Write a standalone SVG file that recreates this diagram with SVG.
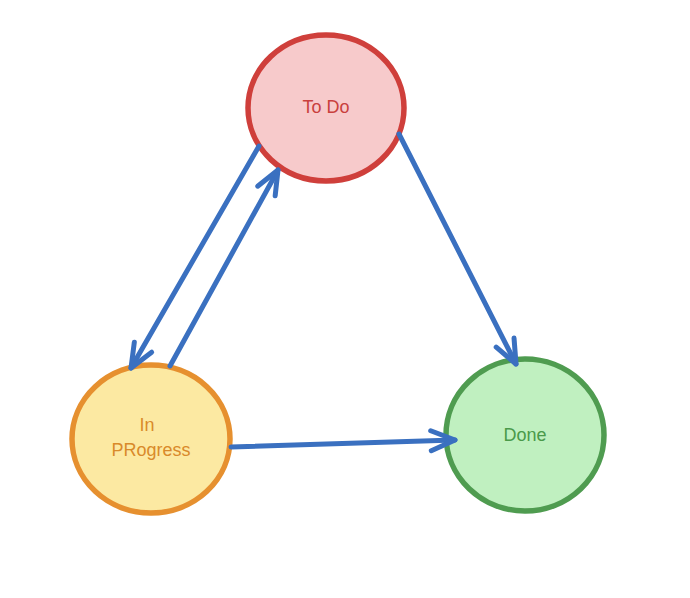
<svg xmlns="http://www.w3.org/2000/svg" width="690" height="598" viewBox="0 0 690 598">
<style>
.lbl{font-family:"Liberation Sans","DejaVu Sans",sans-serif;font-size:18px;text-anchor:middle;dominant-baseline:middle}
.edge{fill:none;stroke:#3a70c0;stroke-width:5;stroke-linecap:round;stroke-linejoin:round}
</style>
<defs>
<marker id="ah" markerUnits="userSpaceOnUse" markerWidth="40" markerHeight="40" viewBox="-30 -20 40 40" refX="0" refY="0" orient="auto">
<path d="M-24,-10 L0,0 L-24,10" fill="none" stroke="#3a70c0" stroke-width="5" stroke-linecap="round" stroke-linejoin="round"/>
</marker>
</defs>
<rect width="690" height="598" fill="#ffffff"/>
<g id="todo">
<ellipse cx="326" cy="108" rx="78" ry="73" fill="#f7cacb" stroke="#cf3f3b" stroke-width="5.5"/>
<text class="lbl" x="326" y="108" fill="#c9403d">To Do</text>
</g>
<g id="inprogress">
<ellipse cx="151" cy="439" rx="79" ry="74" fill="#fce9a2" stroke="#e6902f" stroke-width="5.5"/>
<text class="lbl" x="147" y="426" fill="#d98a2a">In</text>
<text class="lbl" x="151" y="451" fill="#d98a2a">PRogress</text>
</g>
<g id="done">
<ellipse cx="525" cy="435" rx="79" ry="76" fill="#c0f0c0" stroke="#4f9c50" stroke-width="5.5"/>
<text class="lbl" x="525" y="436" fill="#4a9a4a">Done</text>
</g>
<g id="connectors">
<path class="edge" d="M259,146 L131,368" marker-end="url(#ah)"/>
<path class="edge" d="M170,366 L278,170" marker-end="url(#ah)"/>
<path class="edge" d="M399,134 L516,364" marker-end="url(#ah)"/>
<path class="edge" d="M231,447 L455,440" marker-end="url(#ah)"/>
</g>
</svg>
